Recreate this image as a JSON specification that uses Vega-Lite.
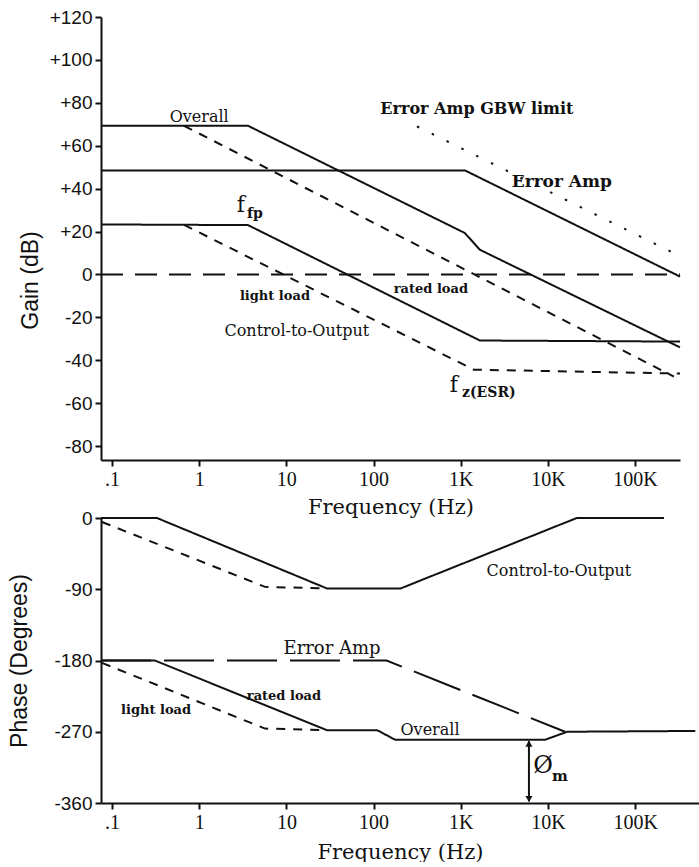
{
  "$schema": "https://vega.github.io/schema/vega-lite/v6.json",
  "background": "white",
  "padding": {"left": 8, "top": 8, "right": 0, "bottom": 0},
  "spacing": -8,
  "config": {
    "view": {"stroke": null},
    "axis": {"domainColor": "#111", "domainWidth": 2, "tickColor": "#111", "tickWidth": 2, "tickSize": 6, "grid": false, "labelColor": "#111", "titleColor": "#111", "titleFontWeight": "normal", "labelOverlap": false, "labelBound": false, "labelFlush": false}
  },
  "resolve": {"scale": {"x": "independent", "y": "independent", "strokeDash": "independent"}},
  "vconcat": [
    {
      "width": 579,
      "height": 443,
      "encoding": {
        "x": {"field": "f", "type": "quantitative", "scale": {"type": "log", "domain": [0.0748, 328000], "nice": false},
          "axis": {"values": [0.1, 1, 10, 100, 1000, 10000, 100000], "labelExpr": "datum.value < 1 ? '.1' : datum.value >= 1000 ? (datum.value / 1000) + 'K' : '' + datum.value", "labelFont": "Liberation Serif", "labelFontSize": 20, "labelPadding": 3, "title": "Frequency (Hz)", "titleFont": "DejaVu Serif", "titleFontSize": 21, "titlePadding": 7}},
        "y": {"field": "v", "type": "quantitative", "scale": {"domain": [-86.5, 120], "nice": false, "zero": false},
          "axis": {"values": [-80, -60, -40, -20, 0, 20, 40, 60, 80, 100, 120], "labelExpr": "datum.value > 0 ? '+' + datum.value : '' + datum.value", "labelFont": "Liberation Sans", "labelFontSize": 19, "labelPadding": 3, "title": "Gain (dB)", "titleFont": "Liberation Sans", "titleFontSize": 23, "titlePadding": 7, "titleY": 263}}
      },
      "layer": [
        {
          "data": {"values": [
            {"series": "Overall", "f": 0.0748, "v": 69.3},
            {"series": "Overall", "f": 3.63, "v": 69.3},
            {"series": "Overall", "f": 1117, "v": 19.3},
            {"series": "Overall", "f": 1660, "v": 11.5},
            {"series": "Overall", "f": 328000, "v": -34},
            {"series": "Error Amp", "f": 0.0748, "v": 48.5},
            {"series": "Error Amp", "f": 1117, "v": 48.5},
            {"series": "Error Amp", "f": 328000, "v": -1},
            {"series": "Error Amp GBW limit", "f": 315, "v": 69},
            {"series": "Error Amp GBW limit", "f": 318000, "v": 8.8},
            {"series": "Control-to-Output", "f": 0.0748, "v": 23.3},
            {"series": "Control-to-Output", "f": 3.63, "v": 23},
            {"series": "Control-to-Output", "f": 1660, "v": -30.8},
            {"series": "Control-to-Output", "f": 328000, "v": -31.3},
            {"series": "Control-to-Output light load", "f": 0.67, "v": 23.1},
            {"series": "Control-to-Output light load", "f": 1413, "v": -44.4},
            {"series": "Control-to-Output light load", "f": 328000, "v": -46.2},
            {"series": "Overall light load", "f": 0.67, "v": 69.3},
            {"series": "Overall light load", "f": 279000, "v": -47.6},
            {"series": "0 dB", "f": 0.0748, "v": 0},
            {"series": "0 dB", "f": 328000, "v": 0}
          ]},
          "mark": {"type": "line", "color": "#111", "strokeWidth": 2, "strokeCap": "butt"},
          "encoding": {
            "detail": {"field": "series", "type": "nominal"},
            "strokeDash": {"field": "series", "type": "nominal", "legend": null,
              "scale": {"domain": ["Overall", "Error Amp", "Error Amp GBW limit", "Control-to-Output", "Control-to-Output light load", "Overall light load", "0 dB"],
                        "range": [[1, 0], [1, 0], [2.5, 14], [1, 0], [9, 8], [9, 8], [22, 12]]}}
          }
        },
        {
          "data": {"values": [
            {"label": "Overall", "f": 1.0, "v": 73.5},
            {"label": "Control-to-Output", "f": 13.2, "v": -26.5}
          ]},
          "mark": {"type": "text", "font": "DejaVu Serif", "fontSize": 16, "align": "center", "baseline": "middle", "color": "#111"},
          "encoding": {"text": {"field": "label"}}
        },
        {
          "data": {"values": [
            {"label": "Error Amp GBW limit", "f": 1535, "v": 77.1}
          ]},
          "mark": {"type": "text", "font": "DejaVu Serif", "fontSize": 16, "fontWeight": "bold", "align": "center", "baseline": "middle", "color": "#111"},
          "encoding": {"text": {"field": "label"}}
        },
        {
          "data": {"values": [
            {"label": "Error Amp", "f": 14450, "v": 43.1}
          ]},
          "mark": {"type": "text", "font": "DejaVu Serif", "fontSize": 17, "fontWeight": "bold", "align": "center", "baseline": "middle", "color": "#111"},
          "encoding": {"text": {"field": "label"}}
        },
        {
          "data": {"values": [
            {"label": "light load", "f": 7.4, "v": -9.95},
            {"label": "rated load", "f": 455, "v": -6.6}
          ]},
          "mark": {"type": "text", "font": "DejaVu Serif", "fontSize": 13, "fontWeight": "bold", "align": "center", "baseline": "middle", "color": "#111"},
          "encoding": {"text": {"field": "label"}}
        },
        {
          "data": {"values": [
            {"label": "f", "f": 3.01, "v": 32.5},
            {"label": "f", "f": 832, "v": -51.5}
          ]},
          "mark": {"type": "text", "font": "DejaVu Serif", "fontSize": 22, "align": "center", "baseline": "middle", "color": "#111"},
          "encoding": {"text": {"field": "label"}}
        },
        {
          "data": {"values": [
            {"label": "fp", "f": 4.37, "v": 28},
            {"label": "z(ESR)", "f": 2104, "v": -55.3}
          ]},
          "mark": {"type": "text", "font": "DejaVu Serif", "fontSize": 14, "fontWeight": "bold", "align": "center", "baseline": "middle", "color": "#111"},
          "encoding": {"text": {"field": "label"}}
        }
      ]
    },
    {
      "width": 598,
      "height": 285,
      "encoding": {
        "x": {"field": "f", "type": "quantitative", "scale": {"type": "log", "domain": [0.0748, 540000], "nice": false},
          "axis": {"values": [0.1, 1, 10, 100, 1000, 10000, 100000], "labelExpr": "datum.value < 1 ? '.1' : datum.value >= 1000 ? (datum.value / 1000) + 'K' : '' + datum.value", "labelFont": "Liberation Serif", "labelFontSize": 20, "labelPadding": 3, "title": "Frequency (Hz)", "titleFont": "DejaVu Serif", "titleFontSize": 21, "titlePadding": 9}},
        "y": {"field": "v", "type": "quantitative", "scale": {"domain": [-360, 0], "nice": false, "zero": false},
          "axis": {"values": [0, -90, -180, -270, -360], "labelExpr": "'' + datum.value", "labelFont": "Liberation Sans", "labelFontSize": 19, "labelPadding": 3, "title": "Phase (Degrees)", "titleFont": "Liberation Sans", "titleFontSize": 23, "titlePadding": 22}}
      },
      "layer": [
        {
          "data": {"values": [
            {"series": "Control-to-Output", "f": 0.0748, "v": 0},
            {"series": "Control-to-Output", "f": 0.328, "v": 0},
            {"series": "Control-to-Output", "f": 29.2, "v": -89},
            {"series": "Control-to-Output", "f": 204, "v": -89},
            {"series": "Control-to-Output", "f": 21400, "v": 0},
            {"series": "Control-to-Output", "f": 214000, "v": 0},
            {"series": "Control-to-Output light load", "f": 0.0767, "v": -5},
            {"series": "Control-to-Output light load", "f": 5.69, "v": -87},
            {"series": "Control-to-Output light load", "f": 29.2, "v": -89},
            {"series": "Error Amp", "f": 0.0748, "v": -180},
            {"series": "Error Amp", "f": 141, "v": -180},
            {"series": "Error Amp", "f": 15700, "v": -270},
            {"series": "Overall", "f": 0.0748, "v": -180},
            {"series": "Overall", "f": 0.31, "v": -180},
            {"series": "Overall", "f": 29.2, "v": -268},
            {"series": "Overall", "f": 110, "v": -268},
            {"series": "Overall", "f": 176, "v": -280},
            {"series": "Overall", "f": 9330, "v": -280},
            {"series": "Overall", "f": 16600, "v": -270},
            {"series": "Overall", "f": 490000, "v": -269},
            {"series": "Overall light load", "f": 0.0767, "v": -183},
            {"series": "Overall light load", "f": 5.69, "v": -266},
            {"series": "Overall light load", "f": 29.2, "v": -268}
          ]},
          "mark": {"type": "line", "color": "#111", "strokeWidth": 2, "strokeCap": "butt"},
          "encoding": {
            "detail": {"field": "series", "type": "nominal"},
            "strokeDash": {"field": "series", "type": "nominal", "legend": null,
              "scale": {"domain": ["Control-to-Output", "Control-to-Output light load", "Error Amp", "Overall", "Overall light load"],
                        "range": [[1, 0], [9, 8], [50, 13], [1, 0], [9, 8]]}}
          }
        },
        {
          "data": {"values": [{"f": 6053, "v": -282, "v2": -358}]},
          "mark": {"type": "rule", "color": "#111", "strokeWidth": 2},
          "encoding": {"y2": {"field": "v2"}}
        },
        {
          "data": {"values": [{"f": 6053, "v": -285}]},
          "mark": {"type": "point", "shape": "triangle-up", "filled": true, "size": 50, "color": "#111", "opacity": 1},
          "encoding": {}
        },
        {
          "data": {"values": [{"f": 6053, "v": -355}]},
          "mark": {"type": "point", "shape": "triangle-down", "filled": true, "size": 50, "color": "#111", "opacity": 1},
          "encoding": {}
        },
        {
          "data": {"values": [
            {"label": "Control-to-Output", "f": 13370, "v": -66.7},
            {"label": "Overall", "f": 444, "v": -268.3}
          ]},
          "mark": {"type": "text", "font": "DejaVu Serif", "fontSize": 16, "align": "center", "baseline": "middle", "color": "#111"},
          "encoding": {"text": {"field": "label"}}
        },
        {
          "data": {"values": [
            {"label": "Error Amp", "f": 33.4, "v": -166}
          ]},
          "mark": {"type": "text", "font": "DejaVu Serif", "fontSize": 18, "align": "center", "baseline": "middle", "color": "#111"},
          "encoding": {"text": {"field": "label"}}
        },
        {
          "data": {"values": [
            {"label": "rated load", "f": 9.38, "v": -225},
            {"label": "light load", "f": 0.32, "v": -242.4}
          ]},
          "mark": {"type": "text", "font": "DejaVu Serif", "fontSize": 13, "fontWeight": "bold", "align": "center", "baseline": "middle", "color": "#111"},
          "encoding": {"text": {"field": "label"}}
        },
        {
          "data": {"values": [
            {"label": "Ø", "f": 8770, "v": -313.5}
          ]},
          "mark": {"type": "text", "font": "DejaVu Serif", "fontSize": 24, "align": "center", "baseline": "middle", "color": "#111"},
          "encoding": {"text": {"field": "label"}}
        },
        {
          "data": {"values": [
            {"label": "m", "f": 13740, "v": -325.6}
          ]},
          "mark": {"type": "text", "font": "DejaVu Serif", "fontSize": 15, "fontWeight": "bold", "align": "center", "baseline": "middle", "color": "#111"},
          "encoding": {"text": {"field": "label"}}
        }
      ]
    }
  ]
}
